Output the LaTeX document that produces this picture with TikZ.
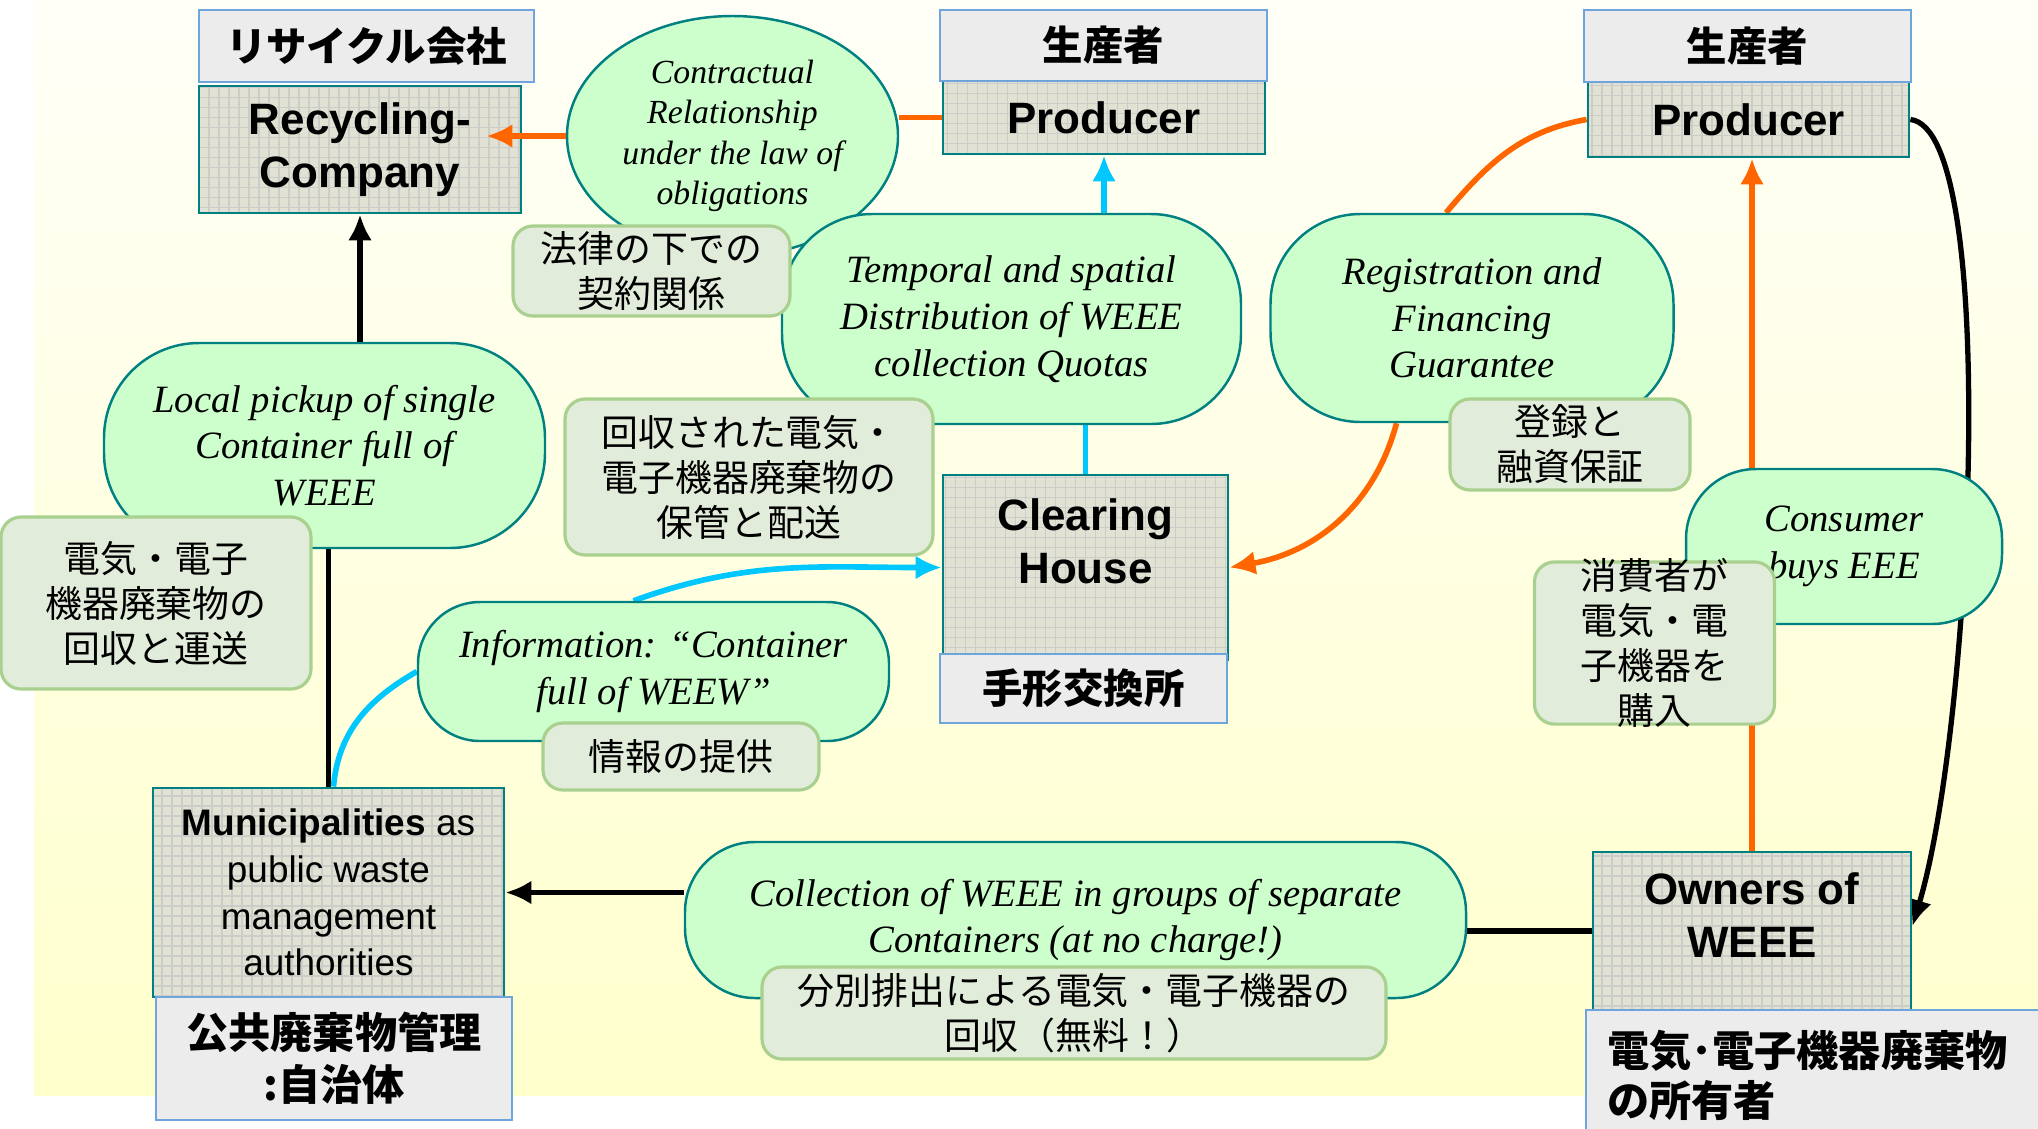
\documentclass[tikz,border=0pt]{standalone}
\usepackage{fontspec}
\setmainfont{Liberation Serif}
\setsansfont{Liberation Sans}
\newfontfamily\jpfont{Noto Sans CJK JP}
\usetikzlibrary{shapes.geometric, arrows.meta}

\definecolor{orangeC}{RGB}{255,102,0}
\definecolor{cyanC}{RGB}{0,200,255}
\definecolor{tealC}{RGB}{0,128,128}
\definecolor{gridFill}{RGB}{226,226,212}
\definecolor{gridLine}{RGB}{204,204,200}
\definecolor{tagFill}{RGB}{236,236,236}
\definecolor{tagEdge}{RGB}{110,165,220}
\definecolor{bubbleFill}{RGB}{204,255,204}
\definecolor{noteFill}{RGB}{226,236,218}
\definecolor{noteEdge}{RGB}{169,208,142}
\definecolor{bgTop}{RGB}{255,255,248}
\definecolor{bgBot}{RGB}{255,255,204}

\pgfdeclarelayer{bg}
\pgfdeclarelayer{wires}
\pgfsetlayers{bg,wires,main}

\begin{document}
\begin{tikzpicture}[
    gridbox/.style={rectangle, draw=tealC, line width=0.8pt, fill=gridFill, inner sep=0pt, align=center,
        font=\sffamily\bfseries\fontsize{12.5}{15}\selectfont,
        path picture={\draw[gridLine, line width=0.4pt] (path picture bounding box.south west) grid[step=0.1] (path picture bounding box.north east);}},
    boxtext/.style={font=\sffamily\bfseries\fontsize{12.5}{15}\selectfont, align=center, inner sep=0pt},
    tag/.style={rectangle, draw=tagEdge, line width=0.6pt, fill=tagFill, inner sep=0pt, align=center,
        font=\jpfont\bfseries\fontsize{11.5}{14}\selectfont},
    oval/.style={ellipse, draw=tealC, line width=0.7pt, fill=bubbleFill, inner sep=0pt, align=center,
        font=\itshape\fontsize{9.6}{11.5}\selectfont},
    bubble/.style={rectangle, rounded corners=#1, draw=tealC, line width=0.7pt, fill=bubbleFill, inner sep=0pt, align=center,
        font=\itshape\fontsize{11}{13.3}\selectfont},
    note/.style={rectangle, rounded corners=0.2cm, draw=noteEdge, line width=0.9pt, fill=noteFill, inner sep=0pt, align=center,
        font=\jpfont\fontsize{10.5}{12.8}\selectfont},
    orangeline/.style={draw=orangeC, line width=1.6pt},
    orangearrow/.style={orangeline, -{Latex[length=2.6mm,width=2.4mm]}},
    cyanline/.style={draw=cyanC, line width=1.6pt},
    cyanarrow/.style={cyanline, -{Latex[length=2.6mm,width=2.4mm]}},
    blackline/.style={draw=black, line width=1.5pt},
    blackarrow/.style={blackline, -{Latex[length=2.6mm,width=2.4mm]}}
]
\useasboundingbox (0,0) rectangle (20.38,-11.28);

% Background
\begin{pgfonlayer}{bg}
\shade[top color=bgTop, bottom color=bgBot] (0.34,0) rectangle (20.38,-10.95);
\end{pgfonlayer}

% Actors (grid boxes)
\node[gridbox, minimum width=3.22cm, minimum height=1.27cm] (rec) at (3.60, -1.495) {Recycling-\\Company};
\node[gridbox, minimum width=3.22cm, minimum height=0.73cm] (prod1) at (11.04, -1.175) {Producer};
\node[gridbox, minimum width=3.21cm, minimum height=0.75cm] (prod2) at (17.485, -1.195) {Producer};
\node[gridbox, minimum width=2.85cm, minimum height=1.85cm] (clear) at (10.855, -5.675) {};
\node[boxtext] (clearTxt) at (10.855, -5.41) {Clearing\\House};
\node[gridbox, minimum width=3.18cm, minimum height=1.68cm] (owners) at (17.52, -9.36) {};
\node[boxtext] (ownersTxt) at (17.52, -9.15) {Owners of\\WEEE};
\node[gridbox, minimum width=3.51cm, minimum height=2.09cm, font=\sffamily\fontsize{10.5}{13.3}\selectfont] (muni) at (3.285, -8.925)
    {\textbf{Municipalities} as\\public waste\\management\\authorities};

% Japanese tags
\node[tag, minimum width=3.35cm, minimum height=0.72cm] (jRec) at (3.665, -0.46) {リサイクル会社};
\node[tag, minimum width=3.27cm, minimum height=0.71cm] (jProd1) at (11.035, -0.455) {生産者};
\node[tag, minimum width=3.27cm, minimum height=0.72cm] (jProd2) at (17.475, -0.46) {生産者};
\node[tag, minimum width=2.87cm, minimum height=0.69cm] (jClear) at (10.835, -6.885) {手形交換所};
\node[tag, minimum width=3.56cm, minimum height=1.23cm, font=\jpfont\bfseries\fontsize{12}{14.8}\selectfont] (jMuni) at (3.34, -10.585)
    {公共廃棄物管理\\:自治体};
\begin{scope}
\clip (0,0) rectangle (20.38,-11.28);
\node[tag, minimum width=4.64cm, minimum height=1.30cm, text width=4.22cm, align=left,
    font=\jpfont\bfseries\fontsize{12}{14.2}\selectfont] (jOwners) at (18.18, -10.75) {電気･電子機器廃棄物\\の所有者};
\end{scope}

% Relations (bubbles)
\node[oval, minimum width=3.31cm, minimum height=2.40cm] (contract) at (7.325, -1.36)
    {Contractual\\Relationship\\under the law of\\obligations};
\node[bubble=0.9cm, minimum width=4.59cm, minimum height=2.10cm] (temporal) at (10.115, -3.19)
    {Temporal and spatial\\Distribution of WEEE\\collection Quotas};
\node[bubble=0.9cm, minimum width=4.03cm, minimum height=2.08cm] (regis) at (14.72, -3.18)
    {Registration and\\Financing\\Guarantee};
\node[bubble=0.7cm, minimum width=3.16cm, minimum height=1.55cm] (consumer) at (18.44, -5.465)
    {Consumer\\buys EEE};
\node[bubble=0.62cm, minimum width=4.71cm, minimum height=1.39cm] (info) at (6.535, -6.715)
    {Information: “Container\\full of WEEW”};
\node[bubble=0.7cm, minimum width=7.81cm, minimum height=1.56cm] (collect) at (10.755, -9.20)
    {Collection of WEEE in groups of separate\\Containers (at no charge!)};
\node[bubble=0.95cm, minimum width=4.41cm, minimum height=2.05cm] (local) at (3.245, -4.455)
    {Local pickup of single\\Container full of\\WEEE};

% Japanese notes
\node[note, minimum width=2.77cm, minimum height=0.90cm] (jContract) at (6.515, -2.71) {法律の下での\\契約関係};
\node[note, minimum width=3.68cm, minimum height=1.56cm] (jTemporal) at (7.49, -4.77) {回収された電気・\\電子機器廃棄物の\\保管と配送};
\node[note, minimum width=2.40cm, minimum height=0.91cm] (jRegis) at (15.70, -4.445) {登録と\\融資保証};
\node[note, minimum width=2.40cm, inner ysep=-0.035cm] (jConsumer) at (16.545, -6.43) {消費者が\\電気・電\\子機器を\\購入};
\node[note, minimum width=2.76cm, minimum height=0.67cm] (jInfo) at (6.81, -7.565) {情報の提供};
\node[note, minimum width=6.24cm, minimum height=0.92cm] (jCollect) at (10.74, -10.13) {分別排出による電気・電子機器の\\回収（無料！）};
\node[note, minimum width=3.10cm, minimum height=1.72cm] (jLocal) at (1.56, -6.03) {電気・電子\\機器廃棄物の\\回収と運送};

% Flows
\begin{pgfonlayer}{wires}
\draw[orangeline] (prod1.west) -- (prod1.west -| contract.east);
\draw[cyanarrow] (prod1.south |- temporal.north) -- (prod1.south);
\draw[cyanline] (clear.north) -- (clear.north |- temporal.south);
\draw[orangeline] (prod2.west) to[out=190, in=50] ([xshift=-0.26cm]regis.north);
\draw[orangearrow] ([xshift=-0.755cm]regis.south) to[out=-105, in=10] (clear.east);
\draw[orangearrow] (owners.north) -- (owners.north |- prod2.south);
\draw[blackarrow] (prod2.east) .. controls +(0.9,-0.1) and +(0.6,2.0) .. ([yshift=0.1cm]owners.east);
\draw[blackline] ([yshift=0.05cm]owners.west) -- ([yshift=0.05cm]owners.west -| collect.east);
\draw[blackarrow] (collect.west |- muni.east) -- (muni.east);
\draw[blackline] (muni.north) -- (muni.north |- local.south);
\draw[blackarrow] (rec.south |- local.north) -- (rec.south);
\draw[cyanline] ([xshift=0.05cm]muni.north) to[out=85, in=210] (info.west);
\draw[cyanarrow] ([xshift=-0.2cm]info.north) to[out=20, in=180] (clear.west);
\end{pgfonlayer}
\draw[orangearrow] (contract.west) -- ([xshift=-0.36cm]contract.west -| rec.east);

\end{tikzpicture}
\end{document}
